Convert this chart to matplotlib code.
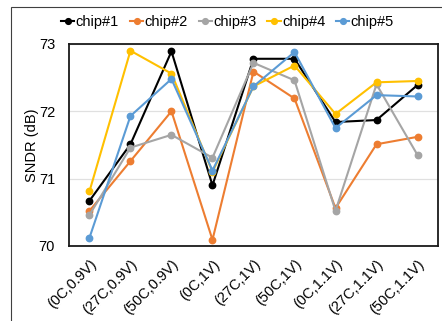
"""SNDR across temperature/supply corners for five chips."""

import matplotlib.pyplot as plt
from matplotlib.patches import Rectangle

plt.rcParams["font.family"] = ["Liberation Sans", "DejaVu Sans"]

corners = ["(0C,0.9V)", "(27C,0.9V)", "(50C,0.9V)", "(0C,1V)", "(27C,1V)",
           "(50C,1V)", "(0C,1.1V)", "(27C,1.1V)", "(50C,1.1V)"]

chip1 = [70.67, 71.51, 72.89, 70.90, 72.78, 72.78, 71.84, 71.87, 72.39]
chip2 = [70.52, 71.26, 72.00, 70.09, 72.59, 72.19, 70.56, 71.51, 71.62]
chip3 = [70.46, 71.46, 71.65, 71.31, 72.72, 72.46, 70.52, 72.40, 71.35]
chip4 = [70.81, 72.90, 72.56, 71.10, 72.37, 72.68, 71.96, 72.43, 72.45]
chip5 = [70.12, 71.93, 72.48, 71.12, 72.37, 72.88, 71.75, 72.24, 72.22]

series = [("chip#1", chip1, "#000000"),
          ("chip#2", chip2, "#ED7D31"),
          ("chip#3", chip3, "#A5A5A5"),
          ("chip#4", chip4, "#FFC000"),
          ("chip#5", chip5, "#5B9BD5")]

fig = plt.figure(figsize=(4.42, 3.21), dpi=100)
ax = fig.add_axes([0.156, 0.234, 0.835, 0.629])

# chart border (runs off the right and bottom edges)
fig.patches.append(Rectangle((11 / 442, -0.1), 1.2, 1.1 - 7 / 321,
                             transform=fig.transFigure, fill=False,
                             edgecolor="#404040", linewidth=0.8))

x = range(len(corners))
for name, vals, color in series:
    ax.plot(x, vals, color=color, linewidth=1.5, marker="o", markersize=4.6,
            label=name)

ax.set_xlim(-0.5, len(corners) - 0.5)
ax.set_ylim(70, 73)
ax.set_yticks([70, 71, 72, 73])
ax.set_xticks(list(x))
ax.set_xticklabels(corners, rotation=45, ha="right", rotation_mode="anchor",
                   fontsize=10.5)
ax.tick_params(axis="both", length=0, labelsize=10.5)
ax.tick_params(axis="x", pad=8)
ax.tick_params(axis="y", pad=10)
ax.grid(True, axis="y", color="#e0e0e0", linewidth=0.9)
ax.set_axisbelow(True)
for sp in ax.spines.values():
    sp.set_linewidth(1.3)
    sp.set_color("#1a1a1a")

ax.set_ylabel("SNDR (dB)", fontsize=10.5, labelpad=0)

fig.legend(loc="center", bbox_to_anchor=(0.515, 0.93), ncol=5, frameon=False,
           fontsize=10.5, handlelength=0.9, handletextpad=0.1,
           columnspacing=0.75, markerscale=0.9)

fig.savefig("out.png", dpi=100)
